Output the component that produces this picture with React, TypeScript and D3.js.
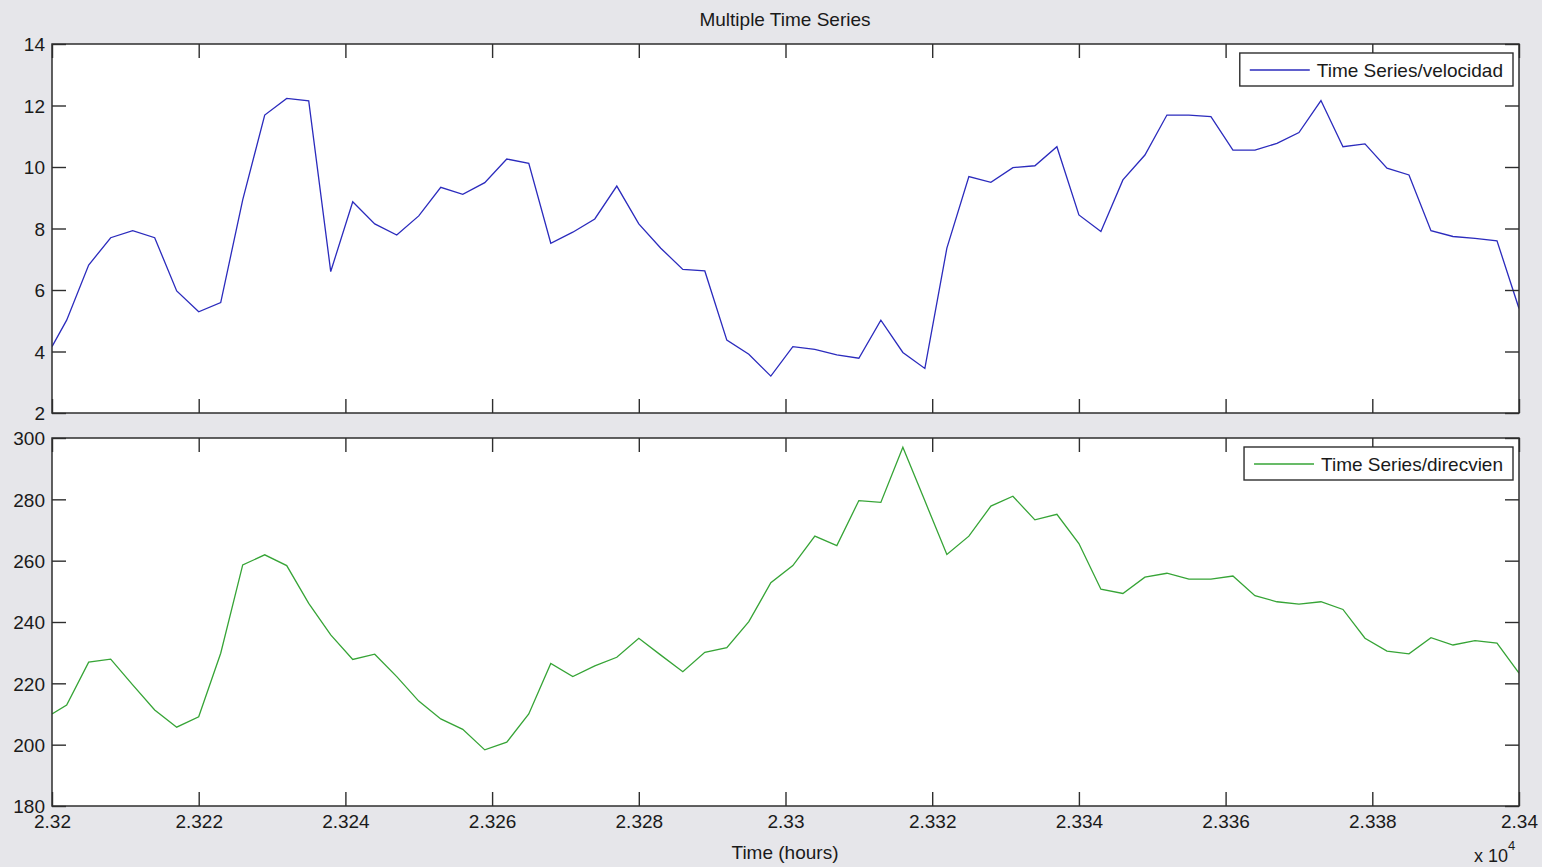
import React, { useEffect, useRef } from 'react';
import * as d3 from 'd3';

// hours: first sample at 23200, then every 3 h from 23202
const hours = [23200].concat(d3.range(23202, 23401, 3));

const velocidad = [
  4.16, 5.02, 6.81, 7.7, 7.93, 7.7, 5.97, 5.29, 5.59, 8.93,
  11.69, 12.23, 12.15, 6.6, 8.87, 8.15, 7.79, 8.41, 9.34, 9.11,
  9.49, 10.26, 10.12, 7.52, 7.88, 8.31, 9.38, 8.15, 7.36, 6.67,
  6.62, 4.37, 3.91, 3.2, 4.16, 4.07, 3.89, 3.78, 5.02, 3.97,
  3.45, 7.36, 9.69, 9.5, 9.98, 10.04, 10.66, 8.44, 7.9, 9.58,
  10.39, 11.69, 11.69, 11.64, 10.55, 10.55, 10.77, 11.12, 12.16, 10.66,
  10.75, 9.96, 9.74, 7.93, 7.74, 7.68, 7.6, 5.4,
];

const direcvien = [
  210.0, 212.9, 226.9, 227.9, 219.5, 211.3, 205.7, 209.1, 229.8, 258.6,
  261.9, 258.4, 246.1, 235.8, 227.8, 229.5, 222.2, 214.2, 208.4, 205.0,
  198.3, 200.8, 210.0, 226.5, 222.2, 225.7, 228.5, 234.7, 229.2, 223.8,
  230.1, 231.6, 240.1, 252.8, 258.4, 268.0, 264.9, 279.6, 279.0, 297.0,
  279.5, 262.0, 268.0, 277.8, 281.0, 273.3, 275.1, 265.6, 250.7, 249.3,
  254.6, 255.9, 254.0, 254.0, 255.0, 248.6, 246.6, 245.8, 246.6, 244.1,
  234.7, 230.5, 229.6, 234.9, 232.5, 233.9, 233.1, 223.3,
];

const xTicks = d3.range(23200, 23401, 20);
const velTicks = d3.range(2, 15, 2);
const dirTicks = d3.range(180, 301, 20);

const W = 1542;
const H = 867;
const FONT = '"Liberation Sans", Arial, Helvetica, sans-serif';

export default function App() {
  const ref = useRef<SVGSVGElement>(null);

  useEffect(() => {
    const svg = d3.select(ref.current);
    svg.selectAll('*').remove();

    svg.append('rect').attr('width', W).attr('height', H).attr('fill', '#e6e6ea');

    const left = 52;
    const right = 1519;
    const x = d3.scaleLinear().domain([23200, 23400]).range([left, right]);

    const panels = [
      { top: 44, bottom: 413, domain: [2, 14], ticks: velTicks, values: velocidad, color: '#2b2bbd', name: 'Time Series/velocidad', labels: false },
      { top: 438, bottom: 806, domain: [180, 300], ticks: dirTicks, values: direcvien, color: '#36a436', name: 'Time Series/direcvien', labels: true },
    ];

    panels.forEach((p, i) => {
      const y = d3.scaleLinear().domain(p.domain).range([p.bottom, p.top]);
      const g = svg.append('g');

      g.append('rect')
        .attr('x', left).attr('y', p.top)
        .attr('width', right - left).attr('height', p.bottom - p.top)
        .attr('fill', '#fff');

      g.append('clipPath').attr('id', 'clip' + i)
        .append('rect')
        .attr('x', left).attr('y', p.top)
        .attr('width', right - left).attr('height', p.bottom - p.top);

      const line = d3.line<number>()
        .x((_, j) => x(hours[j]))
        .y(d => y(d));

      g.append('path')
        .datum(p.values)
        .attr('clip-path', `url(#clip${i})`)
        .attr('fill', 'none')
        .attr('stroke', p.color)
        .attr('stroke-width', 1.3)
        .attr('d', line);

      const fmt = (d: number) => String(+(d / 1e4).toFixed(3));

      const bottomAxis = g.append('g')
        .attr('transform', `translate(0,${p.bottom})`)
        .call(d3.axisBottom(x).tickValues(xTicks).tickSize(-14).tickPadding(9)
          .tickFormat(p.labels ? (fmt as any) : () => ''));
      const topAxis = g.append('g')
        .attr('transform', `translate(0,${p.top})`)
        .call(d3.axisTop(x).tickValues(xTicks).tickSize(-14).tickFormat(() => ''));
      const leftAxis = g.append('g')
        .attr('transform', `translate(${left},0)`)
        .call(d3.axisLeft(y).tickValues(p.ticks).tickSize(-14).tickPadding(7).tickFormat(d3.format('d')));
      const rightAxis = g.append('g')
        .attr('transform', `translate(${right},0)`)
        .call(d3.axisRight(y).tickValues(p.ticks).tickSize(-14).tickFormat(() => ''));

      [bottomAxis, topAxis, leftAxis, rightAxis].forEach(a => {
        a.select('.domain').remove();
        a.selectAll('line').attr('stroke', '#2e2e2e').attr('stroke-width', 1.4);
        a.selectAll('text')
          .attr('fill', '#1a1a1a')
          .style('font-family', FONT)
          .style('font-size', '19px');
      });
      leftAxis.selectAll('text').attr('dy', '0.36em');

      g.append('rect')
        .attr('x', left).attr('y', p.top)
        .attr('width', right - left).attr('height', p.bottom - p.top)
        .attr('fill', 'none')
        .attr('stroke', '#2e2e2e')
        .attr('stroke-width', 1.5);

      // legend
      const lg = g.append('g');
      const txt = lg.append('text')
        .attr('y', p.top + 33)
        .attr('fill', '#1a1a1a')
        .style('font-family', FONT)
        .style('font-size', '19px')
        .text(p.name);
      const tw = (txt.node() as SVGTextElement).getComputedTextLength();
      const boxR = right - 6;
      const boxL = boxR - tw - 10 - 7 - 60 - 10;
      txt.attr('x', boxR - 10 - tw);
      lg.insert('rect', 'text')
        .attr('x', boxL).attr('y', p.top + 9)
        .attr('width', boxR - boxL).attr('height', 33)
        .attr('fill', '#fff')
        .attr('stroke', '#2e2e2e')
        .attr('stroke-width', 1.4);
      lg.append('line')
        .attr('x1', boxL + 10).attr('x2', boxL + 70)
        .attr('y1', p.top + 26).attr('y2', p.top + 26)
        .attr('stroke', p.color)
        .attr('stroke-width', 1.3);
    });

    svg.append('text')
      .attr('x', 785).attr('y', 26)
      .attr('text-anchor', 'middle')
      .attr('fill', '#1a1a1a')
      .style('font-family', FONT).style('font-size', '19px')
      .text('Multiple Time Series');

    svg.append('text')
      .attr('x', 785).attr('y', 859)
      .attr('text-anchor', 'middle')
      .attr('fill', '#1a1a1a')
      .style('font-family', FONT).style('font-size', '19px')
      .text('Time (hours)');

    const ex = svg.append('text')
      .attr('x', 1474).attr('y', 862)
      .attr('fill', '#1a1a1a')
      .style('font-family', FONT).style('font-size', '18px');
    ex.append('tspan').text('x 10');
    ex.append('tspan').attr('dy', -12).style('font-size', '13px').text('4');
  }, []);

  return (
    <div style={{ position: 'absolute', left: 0, top: 0 }}>
      <svg ref={ref} width={W} height={H} style={{ display: 'block' }} />
    </div>
  );
}
